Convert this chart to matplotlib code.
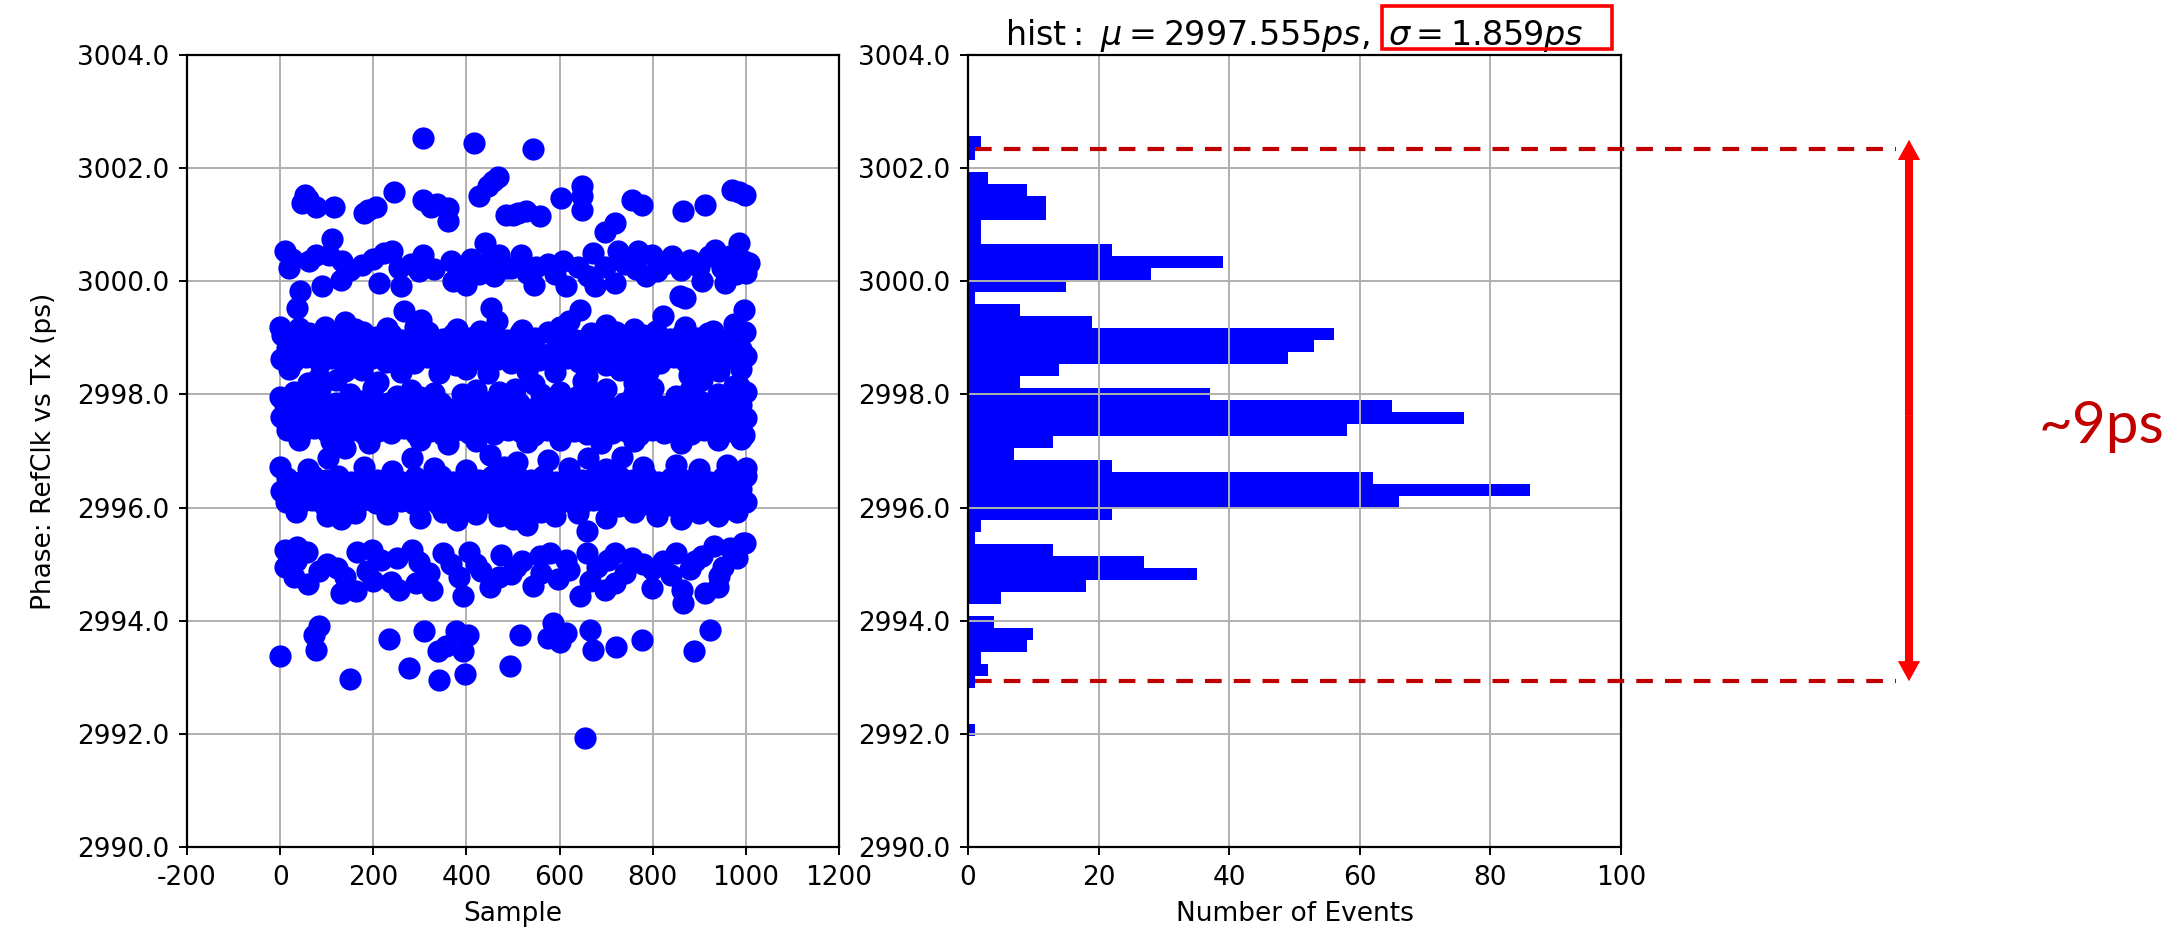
import numpy as np
import matplotlib
matplotlib.use('Agg')
import matplotlib.pyplot as plt
from matplotlib.patches import Rectangle, FancyArrowPatch, ArrowStyle
from matplotlib.lines import Line2D
import matplotlib.transforms as mtransforms

plt.rcParams['axes.unicode_minus'] = False

# ── scatter samples (sample index, phase ps) ──
pts_top = [(306, 3002.54), (417, 3002.44), (542, 3002.34),
           (54, 3001.53), (47, 3001.38), (76, 3001.32), (115, 3001.31), (180, 3001.20), (205, 3001.32),
           (245, 3001.58), (306, 3001.44), (324, 3001.32), (360, 3001.29), (360, 3001.07), (428, 3001.50),
           (446, 3001.68), (468, 3001.85), (486, 3001.18), (499, 3001.18), (528, 3001.24), (557, 3001.15),
           (604, 3001.47), (648, 3001.69), (648, 3001.50), (648, 3001.26), (697, 3000.88), (719, 3001.03),
           (755, 3001.44), (776, 3001.35), (866, 3001.24), (913, 3001.35), (970, 3001.62), (999, 3001.53),
           (458, 3001.78), (188, 3001.26), (510, 3001.20), (985, 3001.58), (60, 3001.45), (337, 3001.37)]

pts_3000 = [(11, 3000.53), (18, 3000.24), (61, 3000.35), (76, 3000.47), (111, 3000.74), (104, 3000.47),
            (133, 3000.35), (130, 3000.03), (90, 2999.91), (43, 2999.82), (36, 2999.53), (176, 3000.29),
            (223, 3000.50), (241, 3000.53), (212, 2999.97), (255, 3000.24), (259, 2999.91), (306, 3000.47),
            (299, 3000.18), (367, 3000.35), (371, 3000.00), (399, 2999.94), (439, 3000.68), (449, 3000.35),
            (428, 3000.12), (471, 3000.47), (486, 3000.24), (517, 3000.47), (496, 3000.24), (546, 2999.94),
            (550, 3000.26), (607, 3000.35), (614, 2999.91), (672, 3000.50), (676, 2999.91), (697, 3000.26),
            (726, 3000.53), (719, 2999.97), (769, 3000.53), (765, 3000.21), (798, 3000.47), (809, 3000.18),
            (841, 3000.44), (881, 3000.38), (906, 3000.00), (859, 2999.74), (934, 3000.56), (949, 3000.24),
            (985, 3000.68), (996, 3000.35), (956, 2999.97), (978, 3000.12), (1006, 3000.32), (996, 2999.50),
            (25, 3000.40), (150, 3000.20), (200, 3000.40), (280, 3000.30), (330, 3000.22), (390, 3000.15),
            (410, 3000.40), (460, 3000.10), (530, 3000.15), (575, 3000.30), (640, 3000.25), (590, 3000.12),
            (660, 3000.10), (740, 3000.30), (785, 3000.10), (825, 3000.30), (860, 3000.20), (900, 3000.25),
            (920, 3000.45), (965, 3000.45), (1000, 3000.15), (870, 2999.70)]

pts_2999 = [(0, 2999.20), (40, 2999.18), (97, 2999.20), (160, 2999.15), (230, 2999.18), (266, 2999.47),
            (302, 2999.32), (380, 2999.15), (453, 2999.53), (465, 2999.30), (520, 2999.14), (600, 2999.20),
            (643, 2999.50), (620, 2999.30), (700, 2999.22), (760, 2999.16), (823, 2999.38), (870, 2999.20),
            (930, 2999.12), (975, 2999.25), (290, 2999.20), (140, 2999.28),
            (5, 2999.05), (30, 2998.98), (62, 2999.08), (88, 2999.00), (118, 2999.06), (150, 2998.98),
            (178, 2999.10), (205, 2999.02), (238, 2999.07), (262, 2998.96), (290, 2999.04), (318, 2999.10),
            (350, 2998.98), (372, 2999.06), (405, 2999.00), (430, 2999.12), (462, 2999.03), (488, 2998.97),
            (515, 2999.08), (548, 2999.00), (575, 2999.10), (610, 2999.02), (635, 2998.96), (668, 2999.08),
            (690, 2999.00), (722, 2999.10), (750, 2998.98), (780, 2999.05), (808, 2999.12), (838, 2998.98),
            (862, 2999.06), (895, 2999.00), (918, 2999.08), (950, 2998.97), (975, 2999.05), (998, 2999.10),
            (15, 2998.82), (45, 2998.76), (72, 2998.86), (100, 2998.78), (130, 2998.84), (162, 2998.74),
            (190, 2998.88), (222, 2998.80), (250, 2998.86), (278, 2998.75), (305, 2998.84), (335, 2998.78),
            (362, 2998.88), (392, 2998.72), (418, 2998.82), (448, 2998.78), (475, 2998.90), (502, 2998.76),
            (532, 2998.85), (560, 2998.72), (592, 2998.82), (622, 2998.78), (650, 2998.88), (680, 2998.74),
            (708, 2998.84), (735, 2998.80), (765, 2998.70), (795, 2998.86), (822, 2998.76), (850, 2998.84),
            (880, 2998.72), (905, 2998.82), (935, 2998.78), (962, 2998.88), (990, 2998.80),
            (2, 2998.62), (28, 2998.58), (55, 2998.66), (85, 2998.55), (112, 2998.64), (140, 2998.60),
            (170, 2998.55), (198, 2998.65), (228, 2998.58), (258, 2998.62), (288, 2998.55), (315, 2998.66),
            (345, 2998.58), (378, 2998.52), (402, 2998.64), (440, 2998.58), (468, 2998.62), (495, 2998.55),
            (525, 2998.66), (555, 2998.60), (585, 2998.55), (615, 2998.64), (642, 2998.58), (672, 2998.62),
            (700, 2998.52), (728, 2998.64), (758, 2998.58), (788, 2998.62), (815, 2998.55), (845, 2998.66),
            (872, 2998.58), (900, 2998.62), (928, 2998.55), (958, 2998.64), (985, 2998.58), (1000, 2998.68),
            (20, 2998.45), (83, 2998.30), (140, 2998.42), (176, 2998.44), (260, 2998.40), (342, 2998.38),
            (400, 2998.45), (446, 2998.38), (530, 2998.42), (590, 2998.40), (658, 2998.32), (730, 2998.44),
            (790, 2998.40), (877, 2998.35), (942, 2998.41), (990, 2998.45),
            (60, 2998.20), (120, 2998.25), (210, 2998.22), (546, 2998.18), (650, 2998.24), (760, 2998.20),
            (905, 2998.25), (975, 2998.15)]

pts_2997 = [(0, 2997.95), (30, 2998.05), (85, 2998.10), (150, 2998.00), (200, 2998.12), (280, 2998.08),
            (300, 2997.95), (330, 2998.02), (390, 2998.00), (470, 2998.05), (505, 2998.10), (560, 2998.00),
            (600, 2998.05), (640, 2997.98), (700, 2998.10), (760, 2998.02), (800, 2998.12), (850, 2997.98),
            (880, 2998.08), (940, 2998.00), (985, 2998.15), (1000, 2998.05), (250, 2997.98), (420, 2998.08),
            (660, 2998.12),
            (10, 2997.82), (38, 2997.76), (65, 2997.86), (92, 2997.78), (120, 2997.85), (148, 2997.74),
            (175, 2997.88), (205, 2997.80), (232, 2997.84), (260, 2997.76), (288, 2997.86), (318, 2997.78),
            (345, 2997.84), (372, 2997.75), (400, 2997.86), (428, 2997.80), (455, 2997.88), (485, 2997.78),
            (512, 2997.84), (540, 2997.74), (568, 2997.86), (595, 2997.80), (625, 2997.84), (652, 2997.76),
            (680, 2997.88), (708, 2997.78), (738, 2997.84), (765, 2997.76), (792, 2997.86), (820, 2997.80),
            (848, 2997.84), (875, 2997.76), (902, 2997.88), (930, 2997.80), (958, 2997.84), (990, 2997.82),
            (2, 2997.60), (25, 2997.55), (52, 2997.64), (78, 2997.56), (105, 2997.62), (132, 2997.54),
            (160, 2997.64), (188, 2997.58), (215, 2997.62), (245, 2997.52), (272, 2997.60), (300, 2997.56),
            (328, 2997.64), (355, 2997.55), (385, 2997.62), (412, 2997.58), (440, 2997.54), (468, 2997.64),
            (498, 2997.56), (525, 2997.62), (552, 2997.54), (580, 2997.60), (610, 2997.56), (638, 2997.64),
            (665, 2997.55), (692, 2997.62), (720, 2997.58), (750, 2997.54), (778, 2997.62), (805, 2997.56),
            (835, 2997.64), (862, 2997.55), (890, 2997.62), (918, 2997.58), (945, 2997.54), (972, 2997.62),
            (1000, 2997.58),
            (15, 2997.38), (45, 2997.32), (72, 2997.40), (100, 2997.34), (128, 2997.30), (155, 2997.38),
            (182, 2997.28), (210, 2997.36), (238, 2997.32), (265, 2997.40), (292, 2997.30), (322, 2997.36),
            (350, 2997.28), (378, 2997.38), (405, 2997.32), (432, 2997.36), (460, 2997.30), (490, 2997.38),
            (518, 2997.34), (545, 2997.28), (572, 2997.38), (600, 2997.32), (630, 2997.36), (658, 2997.30),
            (685, 2997.40), (712, 2997.32), (742, 2997.36), (770, 2997.28), (798, 2997.38), (825, 2997.32),
            (855, 2997.36), (882, 2997.30), (910, 2997.38), (938, 2997.32), (965, 2997.36), (995, 2997.28),
            (40, 2997.20), (110, 2997.18), (190, 2997.15), (300, 2997.20), (360, 2997.12), (420, 2997.18),
            (530, 2997.16), (600, 2997.20), (690, 2997.15), (760, 2997.18), (860, 2997.14), (940, 2997.20),
            (990, 2997.22)]

pts_2996 = [(103, 2996.88), (140, 2997.05), (283, 2996.88), (451, 2996.93), (509, 2996.81), (575, 2996.84),
            (661, 2996.88), (734, 2996.90), (0, 2996.72), (60, 2996.68), (180, 2996.72), (240, 2996.65),
            (330, 2996.70), (400, 2996.66), (480, 2996.72), (620, 2996.70), (700, 2996.68), (780, 2996.72),
            (850, 2996.75), (900, 2996.68), (960, 2996.75), (1000, 2996.70),
            (15, 2996.52), (42, 2996.46), (70, 2996.55), (98, 2996.48), (125, 2996.56), (152, 2996.45),
            (180, 2996.54), (208, 2996.48), (235, 2996.56), (262, 2996.46), (290, 2996.54), (318, 2996.48),
            (345, 2996.56), (372, 2996.45), (400, 2996.52), (428, 2996.48), (455, 2996.56), (482, 2996.46),
            (510, 2996.54), (538, 2996.48), (565, 2996.56), (592, 2996.45), (620, 2996.52), (648, 2996.48),
            (675, 2996.56), (702, 2996.46), (730, 2996.54), (758, 2996.48), (785, 2996.56), (812, 2996.45),
            (840, 2996.52), (868, 2996.48), (895, 2996.56), (922, 2996.46), (950, 2996.54), (978, 2996.48),
            (1000, 2996.55),
            (2, 2996.30), (28, 2996.26), (55, 2996.34), (82, 2996.28), (110, 2996.32), (138, 2996.24),
            (165, 2996.34), (192, 2996.28), (220, 2996.32), (248, 2996.24), (275, 2996.34), (302, 2996.28),
            (330, 2996.32), (358, 2996.25), (385, 2996.34), (412, 2996.28), (440, 2996.32), (468, 2996.24),
            (495, 2996.34), (522, 2996.28), (550, 2996.32), (578, 2996.25), (605, 2996.34), (632, 2996.28),
            (660, 2996.32), (688, 2996.24), (715, 2996.34), (742, 2996.28), (770, 2996.32), (798, 2996.25),
            (825, 2996.34), (852, 2996.28), (880, 2996.32), (908, 2996.24), (935, 2996.34), (962, 2996.28),
            (990, 2996.32),
            (12, 2996.10), (40, 2996.06), (68, 2996.14), (95, 2996.04), (122, 2996.12), (150, 2996.06),
            (178, 2996.14), (205, 2996.08), (232, 2996.02), (260, 2996.12), (288, 2996.06), (315, 2996.14),
            (342, 2996.04), (370, 2996.12), (398, 2996.06), (425, 2996.14), (452, 2996.08), (480, 2996.02),
            (508, 2996.12), (535, 2996.06), (562, 2996.14), (590, 2996.04), (618, 2996.12), (645, 2996.06),
            (672, 2996.14), (700, 2996.08), (728, 2996.02), (755, 2996.12), (782, 2996.06), (810, 2996.14),
            (838, 2996.04), (865, 2996.12), (892, 2996.06), (920, 2996.14), (948, 2996.08), (975, 2996.02),
            (1000, 2996.10),
            (35, 2995.92), (100, 2995.85), (130, 2995.80), (160, 2995.90), (230, 2995.88), (300, 2995.82),
            (350, 2995.92), (380, 2995.78), (420, 2995.88), (470, 2995.85), (500, 2995.80), (560, 2995.92),
            (590, 2995.85), (640, 2995.90), (700, 2995.82), (760, 2995.92), (810, 2995.85), (860, 2995.80),
            (900, 2995.90), (940, 2995.85), (980, 2995.92), (520, 2995.78),
            (530, 2995.69), (658, 2995.59)]

pts_2995 = [(11, 2995.25), (36, 2995.31), (58, 2995.22), (29, 2994.78), (83, 2994.87), (122, 2994.93),
            (130, 2994.49), (162, 2994.52), (166, 2995.22), (140, 2994.78), (198, 2995.25), (187, 2994.87),
            (216, 2995.07), (237, 2994.69), (255, 2994.55), (284, 2995.25), (299, 2995.04), (291, 2994.66),
            (327, 2994.55), (367, 2995.01), (385, 2994.78), (392, 2994.43), (406, 2995.22), (432, 2994.87),
            (475, 2995.16), (471, 2994.78), (507, 2994.95), (496, 2994.82), (557, 2995.14), (542, 2994.61),
            (596, 2994.73), (614, 2995.08), (658, 2995.20), (643, 2994.43), (665, 2994.70), (697, 2994.55),
            (704, 2995.08), (719, 2994.67), (755, 2995.11), (798, 2994.91), (798, 2994.58), (823, 2995.05),
            (863, 2994.55), (866, 2994.31), (906, 2995.14), (913, 2994.49), (942, 2994.79), (931, 2995.32),
            (967, 2995.29), (999, 2995.38), (881, 2994.91), (994, 2995.37),
            (10, 2994.95), (100, 2995.00), (200, 2994.70), (250, 2995.10), (320, 2994.85), (350, 2995.20),
            (420, 2995.00), (450, 2994.60), (520, 2995.05), (560, 2994.85), (620, 2994.90), (680, 2994.95),
            (740, 2994.85), (780, 2995.00), (840, 2994.80), (890, 2995.05), (950, 2994.95), (980, 2995.10),
            (60, 2994.65), (720, 2995.20), (580, 2995.20), (940, 2994.60), (35, 2995.05), (850, 2995.20)]

pts_low = [(83, 2993.90), (72, 2993.75), (76, 2993.49), (0, 2993.37), (151, 2992.97), (234, 2993.67),
           (309, 2993.81), (277, 2993.17), (338, 2993.46), (356, 2993.55), (378, 2993.81), (403, 2993.75),
           (392, 2993.46), (342, 2992.96), (396, 2993.05), (493, 2993.20), (514, 2993.75), (586, 2993.96),
           (575, 2993.69), (614, 2993.78), (600, 2993.63), (665, 2993.84), (672, 2993.49), (722, 2993.54),
           (776, 2993.66), (888, 2993.46), (924, 2993.84), (654, 2991.92)]

# ── histogram counts (50 bins, top to bottom) ──
hist_counts = [2, 1, 0, 3, 9, 12, 12, 2, 2, 22, 39, 28, 15, 1, 8, 19, 56, 53, 49, 14,
               8, 37, 65, 76, 58, 13, 7, 22, 62, 86, 66, 22, 2, 1, 13, 27, 35, 18, 5, 0,
               4, 10, 9, 2, 3, 1, 0, 0, 0, 1]
hist_lo, hist_hi = 2991.959, 3002.566
mu_ps, sigma_ps = 2997.555, 1.859
span_lo, span_hi = 2992.93, 3002.34

W, H = 2177, 944
fig = plt.figure(figsize=(W / 100, H / 100), dpi=100)
fig.patch.set_facecolor('white')

FS = 19
TFS = 24

def px(x0, y0, x1, y1):
    # pixel box (from top-left) -> figure fraction rect
    return [x0 / W, 1 - y1 / H, (x1 - x0) / W, (y1 - y0) / H]

def style(ax):
    ax.grid(True, color='#b0b0b0', lw=1.4)
    ax.tick_params(labelsize=FS, length=6, width=1.4, pad=7, colors='black')
    for s in ax.spines.values():
        s.set_linewidth(1.6)
    ax.set_ylim(2990, 3004)
    ax.set_yticks(np.arange(2990, 3005, 2))
    ax.set_yticklabels(['%.1f' % v for v in np.arange(2990, 3005, 2)])

# ── left: phase vs sample ──
ax1 = fig.add_axes(px(187, 55, 839, 847))
pts = pts_top + pts_3000 + pts_2999 + pts_2997 + pts_2996 + pts_2995 + pts_low
xs, ys = zip(*pts)
ax1.plot(xs, ys, 'o', color='blue', ms=16, mew=0)
ax1.set_xlim(-200, 1200)
ax1.set_xticks(np.arange(-200, 1201, 200))
style(ax1)
ax1.set_xlabel('Sample', fontsize=FS, labelpad=7)
ax1.set_ylabel('Phase: RefClk vs Tx (ps)', fontsize=FS, labelpad=14)

# ── right: histogram ──
ax2 = fig.add_axes(px(968, 55, 1621, 847))
edges = np.linspace(hist_lo, hist_hi, len(hist_counts) + 1)
ax2.hist(edges[:-1], bins=edges, weights=hist_counts[::-1], orientation='horizontal', color='blue')
ax2.set_xlim(0, 100)
ax2.set_xticks(np.arange(0, 101, 20))
style(ax2)
ax2.set_xlabel('Number of Events', fontsize=FS, labelpad=7)
title = ax2.set_title(r'$\mathrm{hist:}\ \mu=%.3fps,\ \sigma=%.3fps$' % (mu_ps, sigma_ps),
                      fontsize=TFS, pad=7)

# red box round the sigma part of the title
fig.canvas.draw()
r = fig.canvas.get_renderer()
tb = title.get_window_extent(r)
tmp = fig.text(0, 0, r'$\sigma=%.3fps$' % sigma_ps, fontsize=TFS)
sw = tmp.get_window_extent(r).width
tmp.remove()
bx0 = tb.x1 - sw - 7
bx1 = tb.x1 + 28
fig.add_artist(Rectangle((bx0 / W, 1 - 49 / H), (bx1 - bx0) / W, 43 / H,
                         transform=fig.transFigure, fill=False, edgecolor='#ff0000', lw=2.6))

# dashed span lines and ~9ps arrow
blend = mtransforms.blended_transform_factory(fig.transFigure, ax2.transData)
for yv in (span_lo, span_hi):
    fig.add_artist(Line2D([975 / W, 1896 / W], [yv, yv], transform=blend, color='#c00000',
                          lw=3, linestyle=(0, (4, 2.9))))
ax_x = 1909 / W
mid = (span_lo + span_hi) / 2
arrow_top = span_hi + 0.16
style_arr = ArrowStyle.Simple(head_length=14.5, head_width=16, tail_width=5.8)
for end in (arrow_top, span_lo):
    fig.add_artist(FancyArrowPatch((ax_x, mid), (ax_x, end), transform=blend, arrowstyle=style_arr,
                                   color='#ff0000', lw=0, shrinkA=0, shrinkB=0))
fig.text(2038 / W, 1 - 443 / H, '~9ps', fontsize=42, color='#c00000', family='Lato',
         va='baseline', ha='left')

fig.savefig('out.png', dpi=100, facecolor='white')
